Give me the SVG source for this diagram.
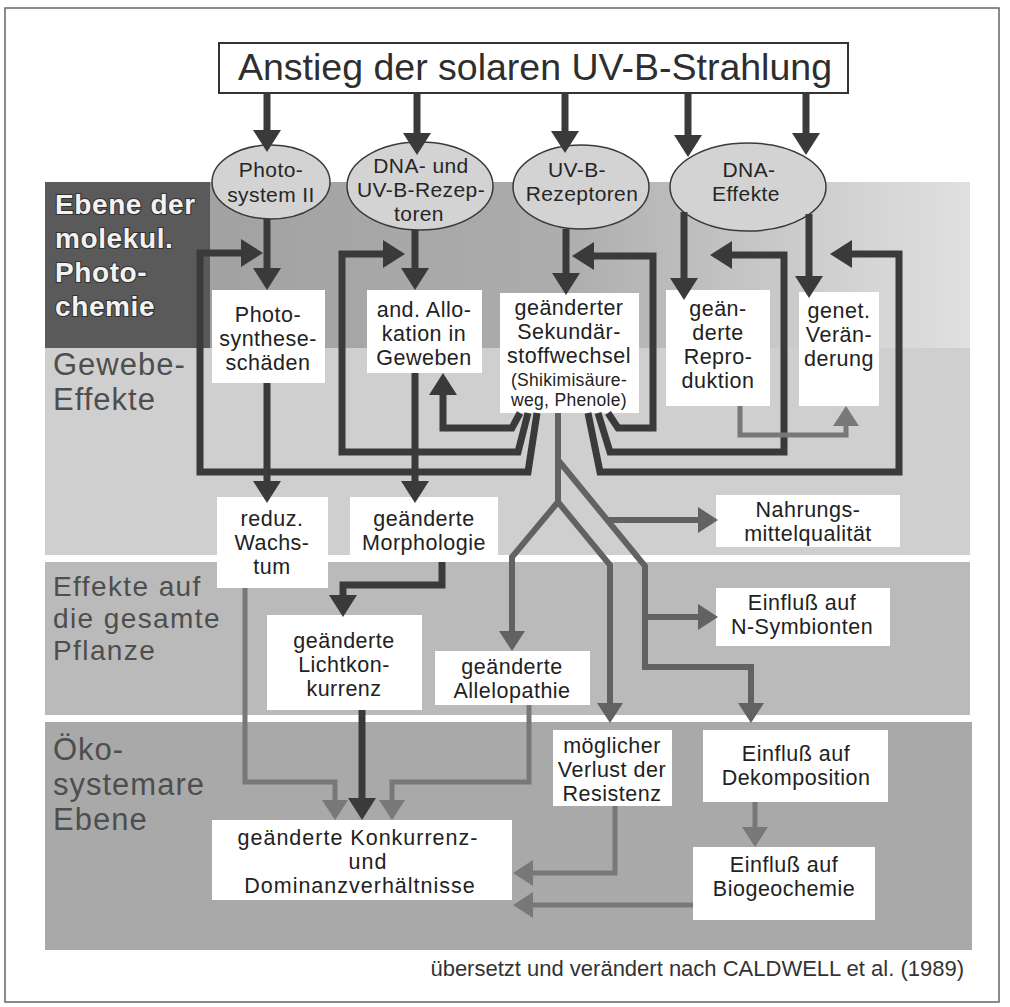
<svg xmlns="http://www.w3.org/2000/svg" width="1010" height="1007" viewBox="0 0 1010 1007">
<defs>
<style>
.t{font-family:"Liberation Sans",Arial,sans-serif;font-size:21.5px;letter-spacing:0.5px;fill:#222;text-anchor:middle}
.e{font-family:"Liberation Sans",Arial,sans-serif;font-size:21px;letter-spacing:0.4px;fill:#262626;text-anchor:middle}
.s{font-size:17.5px;letter-spacing:0.3px}
.lab{font-family:"Liberation Sans",Arial,sans-serif;font-size:28px;letter-spacing:1.4px;fill:#4e4e4e}
.lab2{font-size:31px;letter-spacing:1px}
.labw{font-family:"Liberation Sans",Arial,sans-serif;font-size:28px;letter-spacing:0.6px;font-weight:bold;fill:#f2f2f2;stroke:#333;stroke-width:2.2px;paint-order:stroke fill}
.box{fill:#fff}
.ell{fill:#d3d3d3;stroke:#3a3a3a;stroke-width:1.5}
.cd{fill:none;stroke:#3a3a3a;stroke-width:7;stroke-linejoin:miter}
.cg{fill:none;stroke:#626262;stroke-width:6;stroke-linejoin:miter}
.cl{fill:none;stroke:#787878;stroke-width:5;stroke-linejoin:miter}
</style>
<linearGradient id="g1" x1="210" y1="0" x2="970" y2="0" gradientUnits="userSpaceOnUse">
<stop offset="0" stop-color="#a2a2a2"/>
<stop offset="0.45" stop-color="#acacac"/>
<stop offset="0.85" stop-color="#d3d3d3"/>
<stop offset="1" stop-color="#e0e0e0"/>
</linearGradient>
<marker id="ad" markerUnits="userSpaceOnUse" markerWidth="22" markerHeight="28" viewBox="0 0 22 28" refX="0" refY="14" orient="auto"><path d="M0,0 L22,14 L0,28 Z" fill="#3a3a3a"/></marker>
<marker id="ag" markerUnits="userSpaceOnUse" markerWidth="20" markerHeight="26" viewBox="0 0 20 26" refX="0" refY="13" orient="auto"><path d="M0,0 L20,13 L0,26 Z" fill="#626262"/></marker>
<marker id="al" markerUnits="userSpaceOnUse" markerWidth="20" markerHeight="26" viewBox="0 0 20 26" refX="0" refY="13" orient="auto"><path d="M0,0 L20,13 L0,26 Z" fill="#787878"/></marker>
</defs>
<rect x="0" y="0" width="1010" height="1007" fill="#fff"/>
<rect x="5" y="8" width="994" height="994" fill="none" stroke="#666" stroke-width="1.5"/>

<g id="bands">
<rect x="45" y="182" width="925" height="166" fill="url(#g1)"/>
<rect x="45" y="182" width="165" height="166" fill="#5a5a5a"/>
<rect x="45" y="348" width="925" height="207" fill="#cfcfcf"/>
<rect x="45" y="562" width="925" height="153" fill="#bababa"/>
<rect x="45" y="722" width="927" height="228" fill="#a9a9a9"/>
<text class="labw" x="55" y="214">Ebene der</text>
<text class="labw" x="55" y="248">molekul.</text>
<text class="labw" x="55" y="282">Photo-</text>
<text class="labw" x="55" y="316">chemie</text>
<text class="lab lab2" x="53" y="375">Gewebe-</text>
<text class="lab lab2" x="53" y="410">Effekte</text>
<text class="lab" x="53" y="596">Effekte auf</text>
<text class="lab" x="53" y="628">die gesamte</text>
<text class="lab" x="53" y="660">Pflanze</text>
<text class="lab lab2" x="53" y="760">Öko-</text>
<text class="lab lab2" x="53" y="795">systemare</text>
<text class="lab lab2" x="53" y="830">Ebene</text>
</g>

<g id="title">
<rect x="219" y="43" width="629" height="50" fill="#fff" stroke="#333" stroke-width="2"/>
<text x="535" y="80" style="font-family:'Liberation Sans',Arial,sans-serif;font-size:37.5px;fill:#2e2e2e;text-anchor:middle">Anstieg der solaren UV-B-Strahlung</text>
</g>

<g id="photosystem">
<ellipse class="ell" cx="271" cy="182" rx="59" ry="37"/>
<text class="e" x="271" y="177">Photo-</text>
<text class="e" x="271" y="202">system II</text>
</g>
<g id="dna-uvb-rez">
<ellipse class="ell" cx="420" cy="186" rx="73" ry="44"/>
<text class="e" x="421" y="173">DNA- und</text>
<text class="e" x="421" y="197">UV-B-Rezep-</text>
<text class="e" x="419" y="221">toren</text>
</g>
<g id="uvb-rez">
<ellipse class="ell" cx="581" cy="187" rx="68" ry="42"/>
<text class="e" x="577" y="177">UV-B-</text>
<text class="e" x="582" y="201">Rezeptoren</text>
</g>
<g id="dna-eff">
<ellipse class="ell" cx="748" cy="187" rx="78" ry="44"/>
<text class="e" x="749" y="177">DNA-</text>
<text class="e" x="746" y="201">Effekte</text>
</g>

<g id="photosynthese">
<rect class="box" x="212" y="290" width="113" height="93"/>
<text class="t" x="268" y="322">Photo-</text>
<text class="t" x="268" y="346">synthese-</text>
<text class="t" x="268" y="370">schäden</text>
</g>
<g id="allokation">
<rect class="box" x="367" y="290" width="115" height="83"/>
<text class="t" x="424" y="317">and. Allo-</text>
<text class="t" x="424" y="341">kation in</text>
<text class="t" x="424" y="365">Geweben</text>
</g>
<g id="sekundaer">
<rect class="box" x="500" y="293" width="139" height="120"/>
<text class="t" x="569" y="315">geänderter</text>
<text class="t" x="569" y="339">Sekundär-</text>
<text class="t" x="569" y="363">stoffwechsel</text>
<text class="t s" x="569" y="386">(Shikimisäure-</text>
<text class="t s" x="569" y="406">weg, Phenole)</text>
</g>
<g id="reproduktion">
<rect class="box" x="666" y="290" width="104" height="116"/>
<text class="t" x="718" y="316">geän-</text>
<text class="t" x="718" y="340">derte</text>
<text class="t" x="718" y="364">Repro-</text>
<text class="t" x="718" y="388">duktion</text>
</g>
<g id="genet">
<rect class="box" x="799" y="292" width="80" height="114"/>
<text class="t" x="839" y="318">genet.</text>
<text class="t" x="839" y="342">Verän-</text>
<text class="t" x="839" y="366">derung</text>
</g>
<g id="wachstum">
<rect class="box" x="217" y="497" width="111" height="91"/>
<text class="t" x="272" y="526">reduz.</text>
<text class="t" x="272" y="550">Wachs-</text>
<text class="t" x="272" y="574">tum</text>
</g>
<g id="morphologie">
<rect class="box" x="350" y="497" width="148" height="65"/>
<text class="t" x="424" y="526">geänderte</text>
<text class="t" x="424" y="550">Morphologie</text>
</g>
<g id="nahrung">
<rect class="box" x="716" y="495" width="184" height="52"/>
<text class="t" x="808" y="517">Nahrungs-</text>
<text class="t" x="808" y="541">mittelqualität</text>
</g>
<g id="lichtkonkurrenz">
<rect class="box" x="267" y="615" width="155" height="95"/>
<text class="t" x="344" y="648">geänderte</text>
<text class="t" x="344" y="672">Lichtkon-</text>
<text class="t" x="344" y="696">kurrenz</text>
</g>
<g id="allelopathie">
<rect class="box" x="435" y="651" width="155" height="54"/>
<text class="t" x="512" y="674">geänderte</text>
<text class="t" x="512" y="698">Allelopathie</text>
</g>
<g id="nsymbionten">
<rect class="box" x="716" y="588" width="174" height="58"/>
<text class="t" x="802" y="610">Einfluß auf</text>
<text class="t" x="802" y="634">N-Symbionten</text>
</g>
<g id="resistenz">
<rect class="box" x="553" y="730" width="119" height="76"/>
<text class="t" x="612" y="753">möglicher</text>
<text class="t" x="612" y="777">Verlust der</text>
<text class="t" x="612" y="801">Resistenz</text>
</g>
<g id="dekomposition">
<rect class="box" x="703" y="730" width="185" height="72"/>
<text class="t" x="796" y="761">Einfluß auf</text>
<text class="t" x="796" y="785">Dekomposition</text>
</g>
<g id="biogeochemie">
<rect class="box" x="693" y="847" width="182" height="73"/>
<text class="t" x="784" y="872">Einfluß auf</text>
<text class="t" x="784" y="896">Biogeochemie</text>
</g>
<g id="konkurrenz">
<rect class="box" x="212" y="820" width="300" height="80"/>
<text class="t" x="358" y="845" style="letter-spacing:1px">geänderte Konkurrenz-</text>
<text class="t" x="368" y="869" style="letter-spacing:1px">und</text>
<text class="t" x="360" y="893" style="letter-spacing:1px">Dominanzverhältnisse</text>
</g>

<g id="connectors">
<path class="cd" d="M267,93 V130" marker-end="url(#ad)"/>
<path class="cd" d="M417,93 V133" marker-end="url(#ad)"/>
<path class="cd" d="M565,93 V131" marker-end="url(#ad)"/>
<path class="cd" d="M688,93 V135" marker-end="url(#ad)"/>
<path class="cd" d="M806,93 V133" marker-end="url(#ad)"/>
<path class="cd" d="M267,219 V268" marker-end="url(#ad)"/>
<path class="cd" d="M415,230 V268" marker-end="url(#ad)"/>
<path class="cd" d="M566,229 V273" marker-end="url(#ad)"/>
<path class="cd" d="M684,212 V278" marker-end="url(#ad)"/>
<path class="cd" d="M809,214 V276" marker-end="url(#ad)"/>
<path class="cd" d="M537,413 L528,472 H200 V253 H241" marker-end="url(#ad)"/>
<path class="cd" d="M528,413 L518,452 H342 V254 H383" marker-end="url(#ad)"/>
<path class="cd" d="M520,413 L512,428 H443 V395" marker-end="url(#ad)"/>
<path class="cd" d="M608,413 L618,428 H653 V256 H594" marker-end="url(#ad)"/>
<path class="cd" d="M598,413 L610,452 H784 V255 H732" marker-end="url(#ad)"/>
<path class="cd" d="M588,413 L600,472 H899 V254 H852" marker-end="url(#ad)"/>
<path class="cd" d="M267,383 V481" marker-end="url(#ad)"/>
<path class="cd" d="M415,373 V481" marker-end="url(#ad)"/>
<path class="cd" d="M442,562 V585 H343 V595" marker-end="url(#ad)"/>
<path class="cd" d="M362,710 V798" marker-end="url(#ad)"/>
<path class="cg" d="M558,413 V502 L512,557 V631" marker-end="url(#ag)"/>
<path class="cg" d="M558,502 L610,565 V703" marker-end="url(#ag)"/>
<path class="cg" d="M558,460 L645,566 V667 H751 V703" marker-end="url(#ag)"/>
<path class="cg" d="M606,520 H698" marker-end="url(#ag)"/>
<path class="cg" d="M645,617 H698" marker-end="url(#ag)"/>
<path class="cl" d="M740,406 V435 H846 V426" marker-end="url(#al)"/>
<path class="cl" d="M245,588 V782 H335 V800" marker-end="url(#al)"/>
<path class="cl" d="M529,705 V782 H392 V800" marker-end="url(#al)"/>
<path class="cl" d="M615,806 V873 H533" marker-end="url(#al)"/>
<path class="cl" d="M693,905 H533" marker-end="url(#al)"/>
<path class="cl" d="M755,802 V827" marker-end="url(#al)"/>
</g>

<text x="964" y="976" style="font-family:'Liberation Sans',Arial,sans-serif;font-size:22px;fill:#333;text-anchor:end">übersetzt und verändert nach CALDWELL et al. (1989)</text>
</svg>
